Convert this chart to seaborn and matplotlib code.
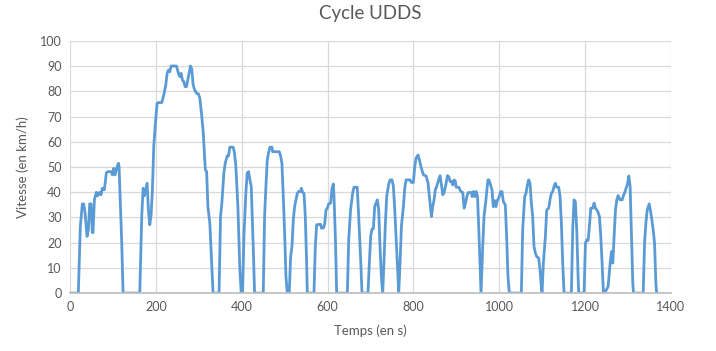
import matplotlib
matplotlib.use("Agg")
import matplotlib.pyplot as plt
import seaborn as sns
import pandas as pd

# Cycle UDDS (time in s, speed in km/h)
temps = [0, 19, 23.7, 28.4, 31.5, 34.6, 39.3, 42.4, 45.5, 48.6, 51.7, 53.3, 56.4, 61.1, 64.2,
         68.8, 72, 75, 79.7, 84.4, 89, 95.3, 98.4, 101.5, 104.6, 109.3, 112.4, 114, 120.2, 123.3,
         162.2, 166.8, 170, 173, 176.2, 179.3, 182.4, 185.5, 188.6, 191.7, 194.8, 198, 202.6, 205.7,
         213.5, 218.2, 222.8, 226, 229, 232.2, 235.3, 247.7, 252.4, 255.5, 258.6, 261.7, 264.8, 268,
         271, 275.7, 280.4, 283.5, 286.6, 289.7, 294.4, 299, 302.2, 306.8, 310, 313, 315, 318, 321,
         325.5, 330.2, 333, 347, 350.4, 353.5, 358.2, 361.3, 366, 369.1, 372.2, 380, 383, 386.2,
         390.9, 395.5, 398.6, 401.8, 404.9, 409.5, 412.6, 415.8, 418.9, 422, 426.6, 429.8, 450,
         453.1, 456.2, 459.3, 462.4, 465.5, 470.2, 471.8, 487.3, 490.4, 493.5, 496.7, 499.8, 502.9,
         506, 510.6, 513.8, 516.9, 520, 523.1, 526.2, 529.3, 532.4, 537.1, 538.6, 541.8, 544.9, 548,
         551.1, 552.6, 568.2, 571.3, 574.4, 583.8, 585.3, 590, 593.1, 596.2, 599.3, 602.4, 607.1,
         610.2, 613.3, 614.9, 618, 621.1, 646, 649.1, 653.5, 658.4, 661.5, 669, 672.4, 677, 680.1,
         694.1, 697.2, 700.4, 703.5, 706.6, 709.7, 712.8, 715.9, 719, 722.1, 725.2, 728.4, 731.5,
         734.6, 737.7, 742.4, 745.5, 750.1, 753.3, 756.4, 761, 765.7, 768.8, 771.9, 776.6, 779.7,
         782.8, 792.1, 795.2, 799.9, 803, 806.1, 810.8, 813.9, 818.6, 823.3, 829.5, 834.1, 837.2,
         841.9, 845, 848.1, 851.2, 854.4, 857.5, 862.1, 865.3, 868.4, 871.5, 876.2, 879.2, 882.4,
         885.5, 888.6, 891.7, 894.8, 897.9, 899.5, 905.7, 910.4, 915, 918.1, 921.3, 924.4, 927.5,
         935.3, 936.8, 939.9, 943, 946.1, 949.3, 952.4, 955.5, 957.5, 961.5, 964.5, 969, 973.5, 976,
         979, 983, 986.1, 989.2, 992.3, 995.5, 1000.1, 1003.2, 1006.3, 1009.5, 1014.1, 1017.2,
         1020.3, 1023.5, 1051.5, 1054.6, 1059.2, 1062.3, 1065.5, 1068.6, 1071.7, 1074.8, 1077.9,
         1081, 1084.1, 1087.2, 1091.9, 1095, 1098.1, 1099.7, 1102.8, 1107.5, 1110.6, 1115.2, 1118.3,
         1121.5, 1124.6, 1127.7, 1130.8, 1133.9, 1138.6, 1141.7, 1144.8, 1147.9, 1151, 1168.1,
         1171.2, 1174.3, 1177.4, 1180.6, 1183.7, 1185.2, 1197.7, 1200.8, 1203.9, 1207, 1210.1,
         1213.3, 1217.9, 1221, 1224.1, 1227.3, 1230.4, 1233.5, 1236.6, 1239.7, 1242.8, 1247.5,
         1250.6, 1253.7, 1258.4, 1261.5, 1264.6, 1267.7, 1270.8, 1274, 1277, 1281.7, 1286.4, 1289.5,
         1292.6, 1295.7, 1298.8, 1302, 1305, 1308.1, 1311.2, 1312.8, 1335.5, 1338.6, 1341.7,
         1344.8, 1349.5, 1352.6, 1355.7, 1358.8, 1361.9, 1365, 1366.6, 1369]
vitesse = [0, 0, 26.4, 35.4, 35.4, 32, 22.5, 25, 35.4, 35.4, 24, 24, 37, 40, 38.6,
           40, 39, 41.6, 41, 47.8, 48.2, 48.2, 46.9, 49.5, 46.9, 50, 51.5, 50.2, 19.8, 0,
           0, 30.4, 41.6, 38.6, 41.2, 43.6, 33, 27.1, 31, 41, 58.1, 66, 75.3, 75.6,
           75.6, 78.6, 82.6, 87.2, 88.5, 87.8, 90.1, 90.1, 87.2, 85.9, 87.2, 84.5, 83.9, 81.9,
           81.9, 85.9, 90.1, 88.8, 82.6, 80.8, 79.3, 79, 77.3, 70, 64, 55, 48.9, 48.2, 34.3,
           27.7, 10.6, 0, 0, 30.4, 35.7, 47.6, 51.5, 54.4, 54.4, 57.9, 57.9, 55.5, 50.2,
           34.3, 9.2, 0, 0, 22.5, 39.9, 47.6, 48.2, 44.9, 42.3, 18.5, 0, 0,
           30.4, 42.3, 52.8, 55.7, 57.9, 57.9, 56.1, 56.1, 54.4, 51.5, 38.3, 23.8, 6.6,
           0, 0, 14.5, 18.5, 29, 34.3, 37, 39.6, 40.3, 40.3, 41.6, 40, 39.6, 30.4,
           11.9, 0, 0, 18.5, 27.1, 27.3, 25.8, 25.8, 27.3, 33, 33.7, 35.4, 35.7,
           41.6, 43.3, 38.3, 22.5, 0, 0, 21, 33, 39.8, 42, 42, 30.4, 13.2, 0,
           0, 11.9, 22.5, 25.5, 25.5, 34.3, 35.7, 37, 33, 18.5, 6.6, 0, 13.2,
           27.7, 38.3, 43.3, 44.9, 44.9, 42.3, 33, 17.2, 0, 11.9, 26.4, 34.3, 41.6,
           44.9, 44.9, 43.9, 43.9, 50.2, 53.5, 54.8, 52.8, 49.5, 46.9, 46.5, 43.6, 38.3,
           30.4, 34.3, 37, 41.2, 42.3, 44.3, 46.6, 42.9, 39, 39.9, 43.6, 46.6, 46.2,
           44.3, 44.3, 42.9, 44.9, 44.3, 42, 42, 40.3, 39.9, 33.7, 35.7, 38.3, 39.9,
           39.9, 38.3, 40.3, 38.3, 40.3, 38.3, 25.1, 9.2, 0, 18.5, 30.4, 37, 44.9, 44.9,
           43.3, 41, 34.3, 36.7, 34.3, 36.7, 38.3, 40.3, 40.3, 36.3, 35, 22.5,
           6.6, 0, 0, 25.1, 38.3, 39.6, 42.9, 44.9, 43.6, 35.7, 30.4,
           18.5, 15.9, 14.5, 13.9, 9.2, 2.6, 0, 11.9, 22.5, 33, 33.7, 37,
           39.6, 40.3, 42.3, 43.6, 42, 42, 38.3, 27.7, 11.9, 0, 0,
           25.1, 37, 36.3, 25.1, 6.6, 0, 0, 19.8, 21.1, 20.9, 26.4,
           33.7, 33.7, 35.7, 33.7, 33, 32, 30.4, 22.5, 11.9, 0, 0.7,
           1.6, 2.6, 11.9, 16.5, 11.9, 22.5, 33, 37, 38.7, 37, 37, 38.7,
           40, 41.6, 43.3, 46.5, 42.3, 22.5, 4, 0, 0, 19.8, 27.7,
           33, 35.4, 32.4, 29, 25.1, 19.8, 4, 0, 0]

df = pd.DataFrame({"Temps": temps, "Vitesse": vitesse})

sns.set_theme(style="white")
plt.rcParams['font.family'] = ['Lato', 'DejaVu Sans']

fig = plt.figure(figsize=(7.16, 3.51), dpi=100)
ax = fig.add_axes([0.098, 0.165, 0.839, 0.718])

sns.lineplot(data=df, x="Temps", y="Vitesse", sort=False, color="#5B9BD5",
             linewidth=2, ax=ax)

ax.set_xlim(0, 1400)
ax.set_ylim(0, 100)
ax.set_xticks(range(0, 1401, 200))
ax.set_yticks(range(0, 101, 10))
ax.grid(True, color="#D9D9D9", linewidth=0.9)
ax.set_axisbelow(True)
for side in ["left", "right", "top"]:
    ax.spines[side].set_visible(False)
ax.spines["bottom"].set_color("#BFBFBF")
ax.tick_params(axis="both", length=0, labelsize=9, colors="#595959", pad=6)

ax.set_xlabel("Temps (en s)", fontsize=9.5, color="#595959", labelpad=8)
ax.set_ylabel("Vitesse (en km/h)", fontsize=9.5, color="#595959", labelpad=8)
fig.suptitle("Cycle UDDS", x=0.517, y=0.985, fontsize=13.5, color="#595959")

fig.savefig("out.png", dpi=100, facecolor="white")
